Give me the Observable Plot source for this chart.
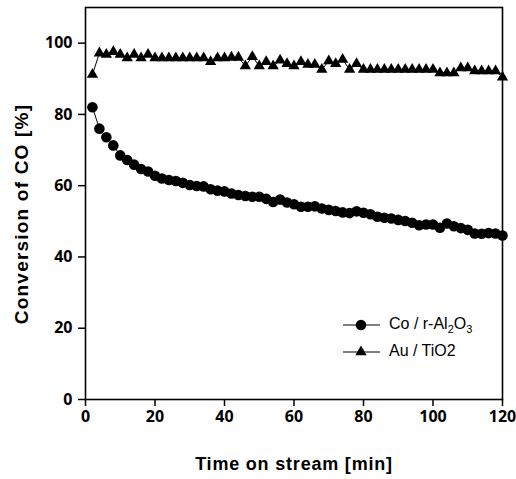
<!DOCTYPE html>
<html><head><meta charset="utf-8">
<script src="https://cdn.jsdelivr.net/npm/d3@7"></script>
<script src="https://cdn.jsdelivr.net/npm/@observablehq/plot@0.6"></script>
<style>
body{margin:0;background:#fff;}
#wrap{position:relative;width:516px;height:479px;font-family:"Liberation Sans",Arial,sans-serif;color:#000;}
#wrap svg.plot{font-family:"Liberation Sans",Arial,sans-serif;font-size:15px;font-weight:bold;}
.lab{position:absolute;font-weight:bold;white-space:nowrap;line-height:1;}
.leg{position:absolute;font-size:16px;white-space:nowrap;line-height:16px;}
.leg sub{font-size:11px;vertical-align:-4px;line-height:0;}
</style></head><body><div id="wrap"></div>
<script>
// Time on stream [min]
const times = [2,4,6,8,10,12,14,16,18,20,22,24,26,28,30,32,34,36,38,40,
  42,44,46,48,50,52,54,56,58,60,62,64,66,68,70,72,74,76,78,80,
  82,84,86,88,90,92,94,96,98,100,102,104,106,108,110,112,114,116,118,120];
// Co / r-Al2O3 conversion [%]
const coValues = [82.0,76.0,73.6,71.3,68.5,67.2,65.9,64.7,64.0,62.8,62.0,61.6,61.3,60.8,60.2,59.9,59.8,59.0,58.6,58.4,
  57.8,57.4,57.1,56.9,56.9,56.3,55.4,56.1,55.3,54.8,54.1,54.1,54.2,53.6,53.2,52.9,52.5,52.3,52.8,52.4,
  52.0,51.3,51.0,50.8,50.4,50.1,49.6,48.9,49.1,49.1,48.2,49.4,48.6,48.1,47.6,46.6,46.5,46.7,46.6,46.0];
// Au / TiO2 conversion [%]
const auValues = [91.2,97.2,96.8,97.6,96.8,95.8,96.8,95.8,96.8,95.8,95.8,95.8,95.8,95.8,95.8,95.8,95.8,94.8,95.8,95.8,
  96.0,96.0,93.6,96.2,93.6,94.8,93.6,95.2,94.2,93.6,94.8,94.0,94.0,92.6,95.0,94.2,95.4,92.6,94.2,92.6,
  92.6,92.6,92.6,92.6,92.6,92.6,92.6,92.6,92.6,92.6,91.6,91.6,91.6,93.0,93.0,92.2,92.2,92.2,92.2,90.4];
const xTicks = [0,20,40,60,80,100,120];
const yTicks = [0,20,40,60,80,100];
const xTitle = "Time on stream [min]";
const yTitle = "Conversion of CO [%]";

const co = times.map((t,i)=>({t, v: coValues[i]}));
const au = times.map((t,i)=>({t, v: auValues[i]}));

const rCircle = 5.3, rTri = 4.2;

const chart = Plot.plot({
  width: 516, height: 479,
  marginLeft: 85, marginRight: 14, marginTop: 7, marginBottom: 80,
  x: {domain: [0,120]},
  y: {domain: [0,110]},
  marks: [
    Plot.axisX({ticks: xTicks, tickSize: 7, tickPadding: 4, label: null, strokeWidth: 1.5, fontSize: 16, fontWeight: "bold"}),
    Plot.axisY({ticks: yTicks, tickSize: 7, tickPadding: 6, label: null, strokeWidth: 1.5, fontSize: 16, fontWeight: "bold"}),
    Plot.line(co, {x: "t", y: "v", stroke: "#000", strokeWidth: 1}),
    Plot.dot(co, {x: "t", y: "v", r: rCircle, fill: "#000", symbol: "circle"}),
    Plot.line(au, {x: "t", y: "v", stroke: "#000", strokeWidth: 1}),
    Plot.dot(au, {x: "t", y: "v", r: rTri, fill: "#000", symbol: "triangle"}),
    Plot.frame({stroke: "#000", strokeWidth: 1.6})
  ]
});
const wrap = document.getElementById("wrap");
wrap.appendChild(chart);

function addDiv(cls, html, css){
  const d = document.createElement("div");
  d.className = cls; d.innerHTML = html;
  Object.assign(d.style, css);
  wrap.appendChild(d); return d;
}
addDiv("lab", xTitle, {left:"294px", top:"455px", fontSize:"18px", letterSpacing:"0.8px", transform:"translateX(-50%)"});
addDiv("lab", yTitle, {left:"21px", top:"214px", fontSize:"19px", letterSpacing:"1.2px", transform:"translate(-50%,-50%) rotate(-90deg)"});

// legend
const legend = [
  {label: "Co / r-Al<sub>2</sub>O<sub>3</sub>", sym: d3.symbolCircle, r: rCircle, cy: 325},
  {label: "Au / TiO2", sym: d3.symbolTriangle, r: rTri, cy: 352}
];
legend.forEach(e => {
  const p = d3.symbol(e.sym, Math.PI*e.r*e.r)();
  addDiv("leg", `<svg width="40" height="16" style="display:block"><line x1="1" x2="38" y1="8" y2="8" stroke="#000" stroke-width="1"/><path transform="translate(19,8)" d="${p}" fill="#000"/></svg>`,
    {left:"342px", top:(e.cy-8)+"px"});
  addDiv("leg", e.label, {left:"389px", top:(e.cy-9)+"px"});
});
</script></body></html>
